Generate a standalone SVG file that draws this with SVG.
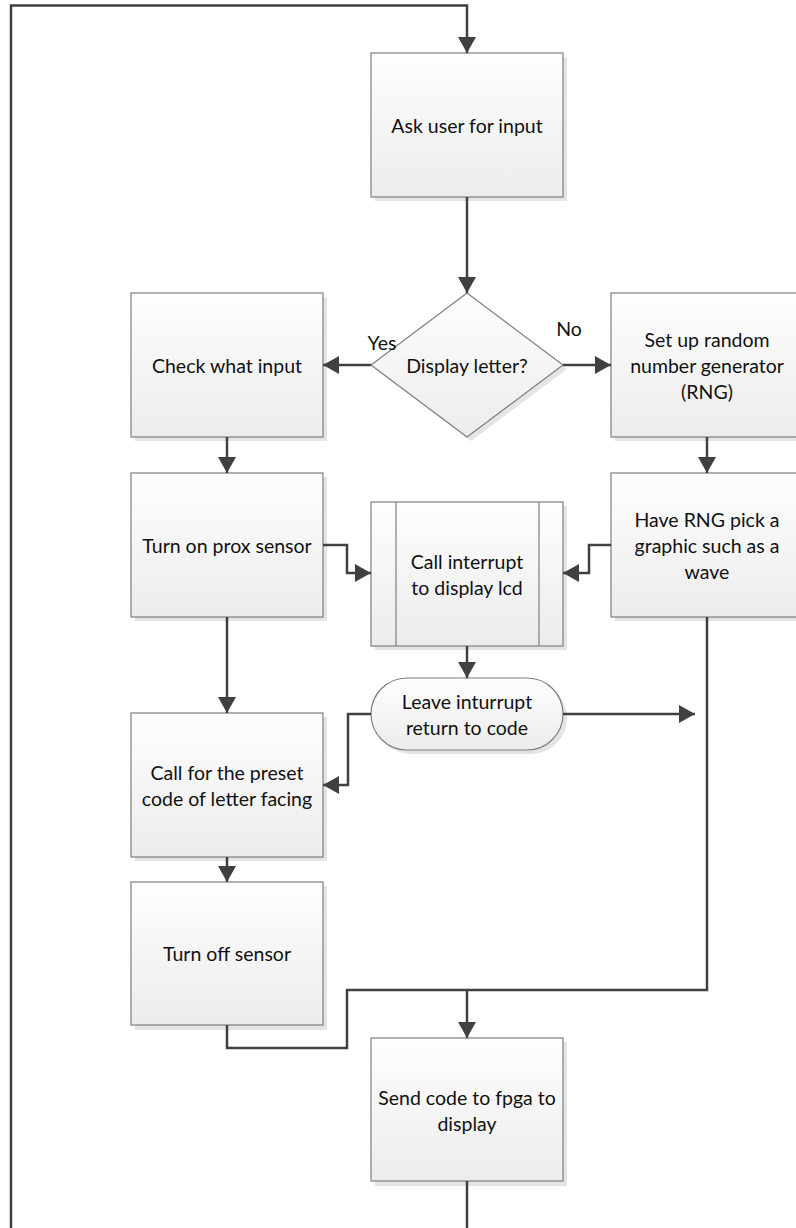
<svg xmlns="http://www.w3.org/2000/svg" width="796" height="1228" viewBox="0 0 796 1228">
<style>
.box{fill:url(#g);stroke:#7f7f7f;stroke-width:1.2}
.sh{fill:#e4e4e4}
.t{font-family:Lato,"Open Sans","Liberation Sans",sans-serif;font-size:19.5px;fill:#111;text-anchor:middle;dominant-baseline:central}
.c{fill:none;stroke:#404040;stroke-width:2.5}
.a{marker-end:url(#ar)}
</style>
<defs>
<linearGradient id="g" x1="0" y1="0" x2="0" y2="1">
<stop offset="0" stop-color="#fefefe"/>
<stop offset="1" stop-color="#ececec"/>
</linearGradient>
<marker id="ar" markerUnits="userSpaceOnUse" markerWidth="16" markerHeight="18" refX="16" refY="9" orient="auto">
<path d="M0,0 L16,9 L0,18 Z" fill="#404040"/>
</marker>
</defs>

<g id="ask">
<rect class="sh" x="375" y="57" width="192" height="144"/>
<rect class="box" x="371" y="53" width="192" height="144"/>
<text class="t" x="467" y="125">Ask user for input</text>
</g>

<g id="decision">
<path class="sh" d="M471,297 L567,369 L471,441 L375,369 Z"/>
<path class="box" d="M467,293 L563,365 L467,437 L371,365 Z"/>
<text class="t" x="467" y="365">Display letter?</text>
</g>

<g id="check">
<rect class="sh" x="135" y="297" width="192" height="144"/>
<rect class="box" x="131" y="293" width="192" height="144"/>
<text class="t" x="227" y="365">Check what input</text>
</g>

<g id="rng">
<rect class="sh" x="615" y="297" width="192" height="144"/>
<rect class="box" x="611" y="293" width="192" height="144"/>
<text class="t" x="707" y="339">Set up random</text>
<text class="t" x="707" y="365">number generator</text>
<text class="t" x="707" y="391">(RNG)</text>
</g>

<g id="turnon">
<rect class="sh" x="135" y="477" width="192" height="144"/>
<rect class="box" x="131" y="473" width="192" height="144"/>
<text class="t" x="227" y="545">Turn on prox sensor</text>
</g>

<g id="pick">
<rect class="sh" x="615" y="477" width="192" height="144"/>
<rect class="box" x="611" y="473" width="192" height="144"/>
<text class="t" x="707" y="519">Have RNG pick a</text>
<text class="t" x="707" y="545">graphic such as a</text>
<text class="t" x="707" y="571">wave</text>
</g>

<g id="interrupt">
<rect class="sh" x="375" y="506" width="192" height="144"/>
<rect class="box" x="371" y="502" width="192" height="144"/>
<line x1="396" y1="502" x2="396" y2="646" stroke="#7f7f7f" stroke-width="1.2"/>
<line x1="539" y1="502" x2="539" y2="646" stroke="#7f7f7f" stroke-width="1.2"/>
<text class="t" x="467" y="561">Call interrupt</text>
<text class="t" x="467" y="587">to display lcd</text>
</g>

<g id="leave">
<rect class="sh" x="375" y="682" width="192" height="72" rx="36"/>
<rect class="box" x="371" y="678" width="192" height="72" rx="36"/>
<text class="t" x="467" y="701">Leave inturrupt</text>
<text class="t" x="467" y="727">return to code</text>
</g>

<g id="preset">
<rect class="sh" x="135" y="717" width="192" height="144"/>
<rect class="box" x="131" y="713" width="192" height="144"/>
<text class="t" x="227" y="772">Call for the preset</text>
<text class="t" x="227" y="798">code of letter facing</text>
</g>

<g id="turnoff">
<rect class="sh" x="135" y="886" width="192" height="144"/>
<rect class="box" x="131" y="882" width="192" height="143"/>
<text class="t" x="227" y="953">Turn off sensor</text>
</g>

<g id="send">
<rect class="sh" x="375" y="1042" width="192" height="144"/>
<rect class="box" x="371" y="1038" width="192" height="143"/>
<text class="t" x="467" y="1097">Send code to fpga to</text>
<text class="t" x="467" y="1123">display</text>
</g>

<g id="labels">
<text class="t" x="382" y="342">Yes</text>
<text class="t" x="569" y="328">No</text>
</g>

<g id="connectors">
<path class="c a" d="M467,1181 L467,1240 M11,1240 L11,5.5 L467,5.5 L467,53"/>
<path class="c a" d="M467,197 L467,293"/>
<path class="c a" d="M371,365 L323,365"/>
<path class="c a" d="M563,365 L611,365"/>
<path class="c a" d="M227,437 L227,473"/>
<path class="c a" d="M707,437 L707,473"/>
<path class="c a" d="M323,545 L347,545 L347,573 L371,573"/>
<path class="c a" d="M611,545 L589,545 L589,573 L563,573"/>
<path class="c a" d="M467,646 L467,678"/>
<path class="c a" d="M563,714 L695,714"/>
<path class="c a" d="M371,714 L348,714 L348,785 L323,785"/>
<path class="c a" d="M227,617 L227,713"/>
<path class="c a" d="M227,857 L227,882"/>
<path class="c" d="M707,617 L707,990 L467,990"/>
<path class="c a" d="M227,1025 L227,1048 L347,1048 L347,990 L467,990 L467,1038"/>
</g>
</svg>
